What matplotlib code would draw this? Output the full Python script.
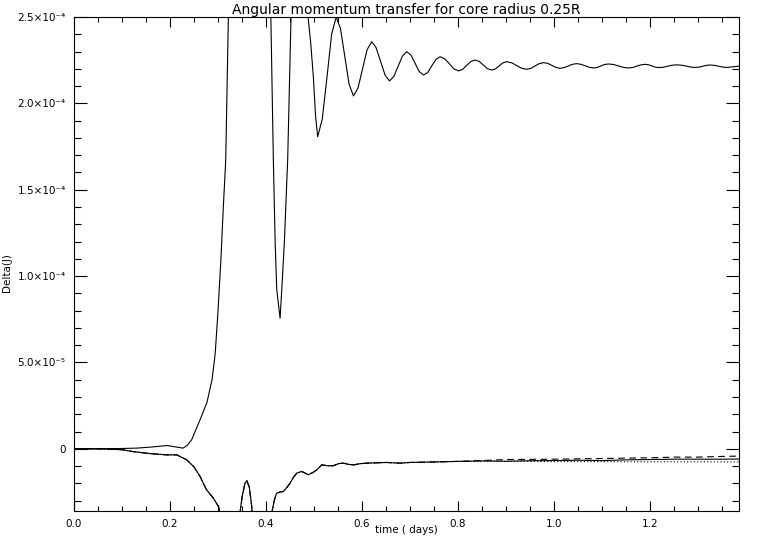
import matplotlib
matplotlib.use("Agg")
import matplotlib.pyplot as plt
from matplotlib.ticker import MultipleLocator, FixedLocator, FixedFormatter
import numpy as np

# curva principal (escala 1e-6)
t_main = [0.0, 0.05, 0.10, 0.13, 0.16, 0.194, 0.214, 0.227, 0.236, 0.245,
          0.2625, 0.277, 0.2875, 0.294, 0.300, 0.306, 0.311, 0.316, 0.3215, 0.327,
          0.35, 0.38, 0.40, 0.410, 0.4152, 0.419, 0.4223, 0.4292, 0.4327, 0.438,
          0.445, 0.452, 0.47, 0.4875, 0.493, 0.4986, 0.503, 0.5075, 0.517, 0.527,
          0.5365, 0.546, 0.555, 0.564, 0.573, 0.582, 0.5915, 0.601, 0.6105, 0.620,
          0.629, 0.6385, 0.648, 0.657, 0.666, 0.675, 0.684, 0.693, 0.702, 0.7105,
          0.719, 0.728, 0.737, 0.745, 0.754, 0.7625, 0.772, 0.782, 0.791, 0.801,
          0.8095, 0.818, 0.8265, 0.835, 0.844, 0.8525, 0.861, 0.870, 0.878, 0.8855,
          0.893, 0.901, 0.9115, 0.922, 0.9325, 0.943, 0.952, 0.9605, 0.969, 0.978,
          0.987, 0.995, 1.004, 1.0125, 1.021, 1.030, 1.038, 1.047, 1.056, 1.0645,
          1.073, 1.082, 1.090, 1.0975, 1.105, 1.113, 1.1235, 1.134, 1.1445, 1.155,
          1.164, 1.1725, 1.181, 1.190, 1.197, 1.2035, 1.210, 1.217, 1.227, 1.236,
          1.246, 1.2555, 1.265, 1.275, 1.284, 1.294, 1.302, 1.3095, 1.317, 1.325,
          1.334, 1.3425, 1.351, 1.360, 1.373, 1.387]
dj_main = [0.0, 0.0, 0.2, 0.4, 1.0, 1.9, 1.0, 0.4, 2.0, 5.2,
           16.8, 27, 40, 55, 80, 110, 140, 167, 250, 290,
           400, 420, 330, 250, 167, 119, 92, 75.6, 92, 119,
           167, 250, 330, 250, 235, 215, 193, 180.7, 190.8, 215.4,
           240, 250, 243.3, 227.2, 211, 204.3, 208.9, 220, 231.1, 235.7,
           232.4, 224.4, 216.3, 213, 215.5, 221.5, 227.4, 229.9, 227.9, 223.2,
           218.4, 216.4, 217.9, 221.7, 225.5, 227, 225.8, 222.9, 220, 218.8,
           219.7, 222, 224.2, 225.1, 224.3, 222.2, 220.1, 219.3, 220, 221.7,
           223.4, 224.1, 223.5, 221.9, 220.3, 219.7, 220.3, 221.7, 223, 223.6,
           223.1, 222, 220.8, 220.3, 220.7, 221.7, 222.6, 223, 222.6, 221.8,
           220.9, 220.5, 220.8, 221.7, 222.5, 222.8, 222.5, 221.7, 220.8, 220.5,
           220.8, 221.6, 222.3, 222.6, 222.3, 221.7, 221, 220.7, 220.9, 221.5,
           222.1, 222.3, 222.1, 221.6, 221, 220.8, 221, 221.5, 222, 222.2,
           222, 221.5, 221, 220.8, 221.2, 221.6]

# curvas inferiores: parte comum
t_low = [0.0, 0.05, 0.10, 0.123, 0.16, 0.193, 0.214, 0.235, 0.25, 0.2625,
         0.276, 0.290, 0.301, 0.306, 0.315, 0.33, 0.342, 0.350, 0.356, 0.360,
         0.365, 0.370, 0.375, 0.39, 0.405, 0.412, 0.417, 0.422, 0.429, 0.436,
         0.443, 0.45, 0.457, 0.464, 0.474, 0.481, 0.488, 0.497, 0.5056, 0.516,
         0.528, 0.540, 0.551, 0.561, 0.572, 0.582, 0.596, 0.61, 0.63, 0.651,
         0.679, 0.70, 0.75, 0.797]
dj_low = [0.0, 0.0, -0.5, -1.6, -2.8, -3.5, -3.5, -6.4, -10.5, -16,
          -23.7, -28.5, -33.4, -40, -60, -60, -45, -28, -20, -18.5,
          -22, -33, -50, -60, -50, -37, -30, -25.7, -25, -24.7,
          -22.5, -19.9, -16.5, -14.1, -13.1, -14, -15, -13.8, -12.2, -9.3,
          -9.8, -9.8, -8.6, -8.3, -9.0, -9.3, -8.6, -8.3, -8.1, -7.9,
          -8.3, -7.9, -7.6, -7.3]

# finais de cada curva inferior
t_tail = [0.85, 0.9, 0.95, 1.0, 1.05, 1.1, 1.15, 1.2, 1.25, 1.3, 1.35, 1.387]
dj_tail_solid = [-7.0, -7.2, -6.9, -6.8, -6.6, -6.8, -6.4, -6.2, -6.0, -6.0, -6.0, -5.9]
dj_tail_dash = [-6.8, -6.2, -6.1, -6.0, -5.8, -5.6, -5.4, -5.2, -4.8, -4.8, -4.4, -4.2]
dj_tail_dot = [-7.2, -7.3, -7.3, -7.4, -7.4, -7.4, -7.5, -7.5, -7.5, -7.5, -7.6, -7.6]

ytick_vals = [0, 5e-5, 1e-4, 1.5e-4, 2e-4, 2.5e-4]
ytick_labels = ["0", "5.0×10⁻⁵", "1.0×10⁻⁴", "1.5×10⁻⁴", "2.0×10⁻⁴", "2.5×10⁻⁴"]

fig = plt.figure(figsize=(7.63, 5.45), dpi=100)
ax = fig.add_axes([74 / 763, 34 / 545, 665 / 763, 494 / 545])

t_lo = np.array(t_low + t_tail)
ax.plot(np.array(t_main), np.array(dj_main) * 1e-6, color="black", lw=0.8)
ax.plot(t_lo, np.array(dj_low + dj_tail_solid) * 1e-6, color="black", lw=0.8)
ax.plot(t_lo, np.array(dj_low + dj_tail_dash) * 1e-6, color="black", lw=0.8,
        linestyle=(0, (6, 4)))
ax.plot(t_lo, np.array(dj_low + dj_tail_dot) * 1e-6, color="black", lw=0.8,
        linestyle=(0, (1, 2)))

ax.set_xlim(0, 1.385)
ax.set_ylim(-3.6e-5, 2.5e-4)

ax.xaxis.set_major_locator(MultipleLocator(0.2))
ax.xaxis.set_minor_locator(MultipleLocator(0.05))
ax.xaxis.set_major_formatter(plt.FuncFormatter(lambda v, p: "%.1f" % v))
ax.yaxis.set_major_locator(FixedLocator(ytick_vals))
ax.yaxis.set_major_formatter(FixedFormatter(ytick_labels))
ax.yaxis.set_minor_locator(MultipleLocator(1e-5))

ax.tick_params(axis="both", which="both", direction="in", top=True, right=True,
               width=0.8, labelsize=7.5, colors="black")
ax.tick_params(axis="x", which="major", length=7, pad=6)
ax.tick_params(axis="x", which="minor", length=3.6)
ax.tick_params(axis="y", which="major", length=9.6, pad=6)
ax.tick_params(axis="y", which="minor", length=5)
for s in ax.spines.values():
    s.set_linewidth(0.8)

ax.set_title("Angular momentum transfer for core radius 0.25R", fontsize=10, pad=2)
fig.text(406 / 763, 1 - 530 / 545, "time ( days)", ha="center", va="center", fontsize=7.5)
fig.text(0.009, 0.5, "Delta(J)", rotation=90, ha="center", va="center", fontsize=7.5)

plt.savefig("out.png", dpi=100)
